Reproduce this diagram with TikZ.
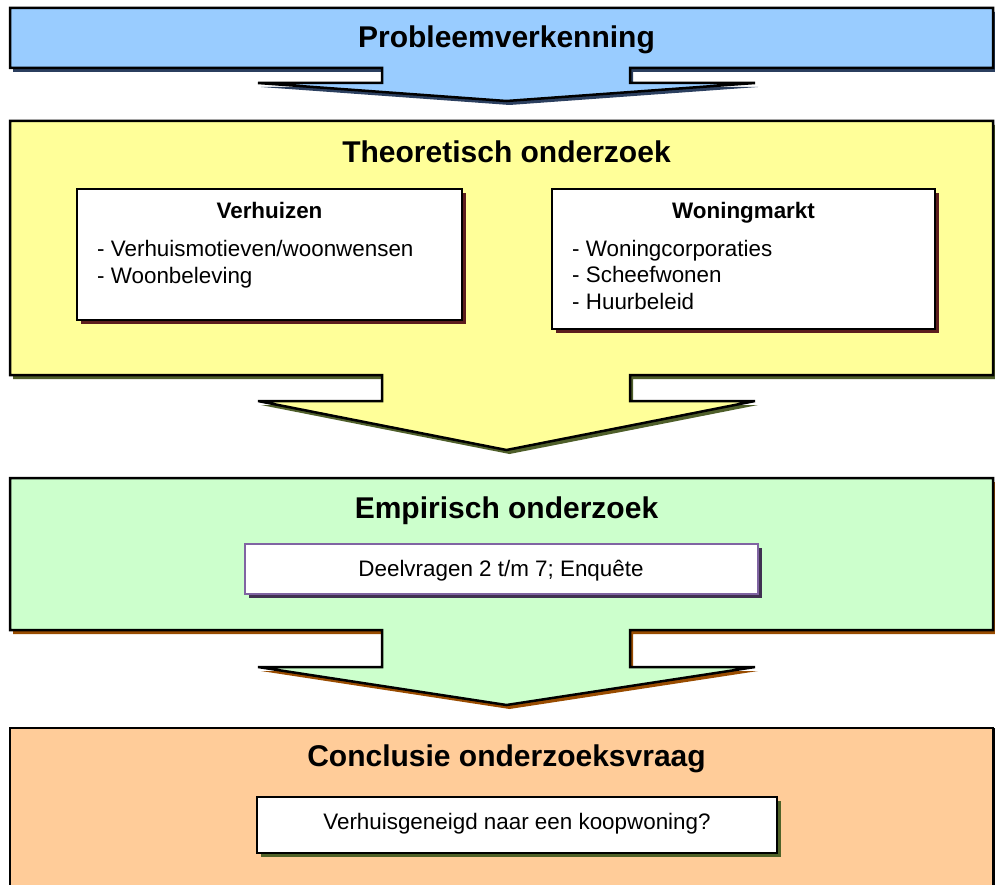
\documentclass[tikz,border=0pt]{standalone}
\usepackage{fontspec}
\setmainfont{Liberation Sans}
\usetikzlibrary{shadows}
\definecolor{cblue}{HTML}{99CCFF}
\definecolor{cyellow}{HTML}{FFFF99}
\definecolor{cgreen}{HTML}{CCFFCC}
\definecolor{corange}{HTML}{FFCC99}
\definecolor{sblue}{HTML}{2B3F5F}
\definecolor{syellow}{HTML}{4F5F2A}
\definecolor{sgreen}{HTML}{994C00}
\definecolor{sred}{HTML}{5C1E1E}
\definecolor{cpurple}{HTML}{8064A2}
\definecolor{spurple}{HTML}{3F3151}
\definecolor{solive}{HTML}{4F6228}
\newcommand\calloutshape[6]{%
  \fill[#6, shift={(3,4)}] (10,#1) -- (993,#1) -- (993,#2) -- (630,#2) -- (630,#3) -- (755,#3) -- (506.5,#4) -- (258,#3) -- (382,#3) -- (382,#2) -- (10,#2) -- cycle;
  \filldraw[fill=#5, draw=black, line width=2.5pt, line join=miter] (10,#1) -- (993,#1) -- (993,#2) -- (630,#2) -- (630,#3) -- (755,#3) -- (506.5,#4) -- (258,#3) -- (382,#3) -- (382,#2) -- (10,#2) -- cycle;
}
\tikzset{
  x=1pt, y=-1pt,
  title/.style={font=\fontsize{30}{36}\selectfont\bfseries, anchor=base, inner sep=0},
  boxhead/.style={font=\fontsize{22.4}{27}\selectfont\bfseries, anchor=base, inner sep=0},
  boxtext/.style={font=\fontsize{22.4}{27}\selectfont, inner sep=0, anchor=base west},
  innerbox/.style={draw=black, fill=white, line width=2pt, inner sep=0,
    drop shadow={shadow xshift=4pt, shadow yshift=-4pt, fill=#1, opacity=1}},
}
\begin{document}
\begin{tikzpicture}
\useasboundingbox (0,0) rectangle (995,885);
\begin{scope}
\clip (0,0) rectangle (995,885);
% Probleemverkenning
\calloutshape{8}{68}{83}{101}{cblue}{sblue}
\node[title] (t1) at (506.5,48) {Probleemverkenning};
% Theoretisch onderzoek
\calloutshape{121}{375}{401}{450}{cyellow}{syellow}
\node[title] (t2) at (506.5,163) {Theoretisch onderzoek};
\node[innerbox=sred, minimum width=385pt, minimum height=131pt] (b1) at (269.5,254.5) {};
\node[boxhead] (h1) at (269.5,219) {Verhuizen};
\node[boxtext] (l1a) at (97,257) {- Verhuismotieven/woonwensen};
\node[boxtext] (l1b) at (97,283.5) {- Woonbeleving};
\node[innerbox=sred, minimum width=383pt, minimum height=140pt] (b2) at (743.5,259) {};
\node[boxhead] (h2) at (743.5,219) {Woningmarkt};
\node[boxtext] (l2a) at (572,256) {- Woningcorporaties};
\node[boxtext] (l2b) at (572,282.5) {- Scheefwonen};
\node[boxtext] (l2c) at (572,309) {- Huurbeleid};
% Empirisch onderzoek
\calloutshape{478}{630}{667}{705}{cgreen}{sgreen}
\node[title] (t3) at (506.5,518) {Empirisch onderzoek};
\node[innerbox=spurple, draw=cpurple, minimum width=513pt, minimum height=50pt] (b3) at (501.5,569) {};
\node[font=\fontsize{22.4}{27}\selectfont, anchor=base, inner sep=0] (d3) at (501,576) {Deelvragen 2 t/m 7; Enquête};
% Conclusie
\fill[black] (10,728) rectangle (996,900);
\filldraw[fill=corange, draw=black, line width=2.5pt] (10,728) rectangle (993,900);
\node[title] (t4) at (506.5,766) {Conclusie onderzoeksvraag};
\node[innerbox=solive, minimum width=520pt, minimum height=56pt] (b4) at (517,825) {};
\node[font=\fontsize{22.4}{27}\selectfont, anchor=base, inner sep=0] (d4) at (517,829) {Verhuisgeneigd naar een koopwoning?};
\end{scope}
\end{tikzpicture}
\end{document}
